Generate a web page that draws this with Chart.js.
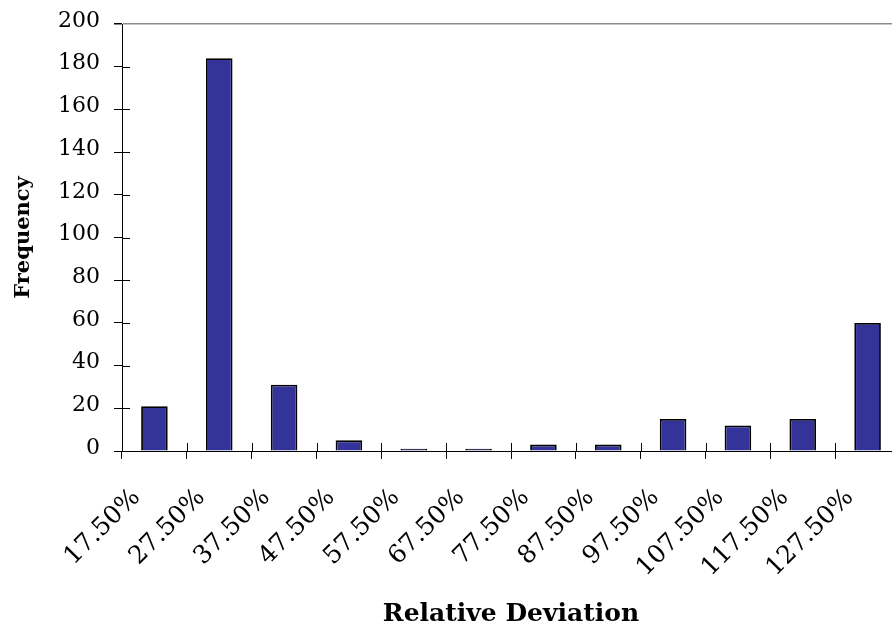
<!DOCTYPE html>
<html>
<head>
<meta charset="utf-8">
<script src="https://cdn.jsdelivr.net/npm/chart.js@4"></script>
<style>
  html, body { margin: 0; padding: 0; background: #fff; overflow: hidden; }
  #wrap { width: 900px; height: 629px; }
</style>
</head>
<body>
<div id="wrap"><canvas id="chart" width="900" height="629"></canvas></div>
<script>
// === Data ===
const binLabels = ["17.50%", "27.50%", "37.50%", "47.50%", "57.50%", "67.50%",
  "77.50%", "87.50%", "97.50%", "107.50%", "117.50%", "127.50%"];
const frequency = [21, 184, 31, 5, 1, 1, 3, 3, 15, 12, 15, 60];
const yTicks = [0, 20, 40, 60, 80, 100, 120, 140, 160, 180, 200];

const serif = "'DejaVu Serif', 'Liberation Serif', serif";

// Excel style "cross" tick marks: Chart.js draws the outer half, this adds the inner half
const innerTicks = {
  id: "innerTicks",
  afterDraw(chart) {
    const { ctx, chartArea, scales } = chart;
    ctx.save();
    ctx.strokeStyle = "#000";
    ctx.lineWidth = 1;
    ctx.beginPath();
    scales.y.ticks.forEach((t, i) => {
      if (t.value === 200) return;
      const y = Math.round(scales.y.getPixelForTick(i)) + 0.5;
      ctx.moveTo(chartArea.left, y);
      ctx.lineTo(chartArea.left + 8, y);
    });
    for (let i = 1; i <= binLabels.length; i++) {
      const x = Math.round(scales.x.getPixelForValue(i - 0.5)) + 0.5;
      ctx.moveTo(x, chartArea.bottom);
      ctx.lineTo(x, chartArea.bottom - 8);
    }
    ctx.stroke();
    ctx.restore();
  }
};

new Chart(document.getElementById("chart").getContext("2d"), {
  type: "bar",
  data: {
    labels: binLabels,
    datasets: [{
      label: "Frequency",
      data: frequency,
      backgroundColor: "#333399",
      borderColor: "#000",
      borderWidth: 1.8,
      barPercentage: 0.41,
      categoryPercentage: 1
    }]
  },
  options: {
    responsive: false,
    animation: false,
    layout: { padding: { top: 24, left: 0, right: 0, bottom: 0 } },
    plugins: {
      legend: { display: false },
      tooltip: { enabled: false }
    },
    scales: {
      x: {
        afterFit(scale) {
          scale.height = 178;
          scale.paddingLeft = 0;
          scale.paddingRight = 0;
        },
        border: { color: "#000", width: 1 },
        grid: {
          offset: true,
          drawOnChartArea: false,
          tickLength: 8,
          color: "#000"
        },
        ticks: {
          autoSkip: false,
          minRotation: 45,
          maxRotation: 45,
          labelOffset: -18,
          padding: 24,
          color: "#000",
          font: { family: serif, size: 25 }
        },
        title: {
          display: true,
          text: "Relative Deviation",
          color: "#000",
          font: { family: serif, size: 25, weight: "bold" },
          padding: { top: 0, bottom: 0 }
        }
      },
      y: {
        min: 0,
        max: 200,
        afterFit(scale) {
          scale.width = 122;
          scale.paddingTop = 0;
          scale.paddingBottom = 0;
        },
        afterBuildTicks(scale) { scale.ticks = yTicks.map(v => ({ value: v })); },
        border: { color: "#000", width: 1 },
        grid: {
          drawOnChartArea: true,
          tickLength: 8,
          tickColor: "#000",
          color: (c) => (c.tick && c.tick.value === 200 ? "#8c8c8c" : "rgba(0,0,0,0)"),
          lineWidth: (c) => (c.tick && c.tick.value === 200 ? 1.5 : 1)
        },
        ticks: {
          padding: 14,
          labelOffset: -3,
          color: "#000",
          font: { family: serif, size: 22 }
        },
        title: {
          display: true,
          text: "Frequency",
          color: "#000",
          font: { family: serif, size: 21, weight: "bold" },
          padding: { top: 11, bottom: 0 }
        }
      }
    }
  },
  plugins: [innerTicks]
});
</script>
</body>
</html>
